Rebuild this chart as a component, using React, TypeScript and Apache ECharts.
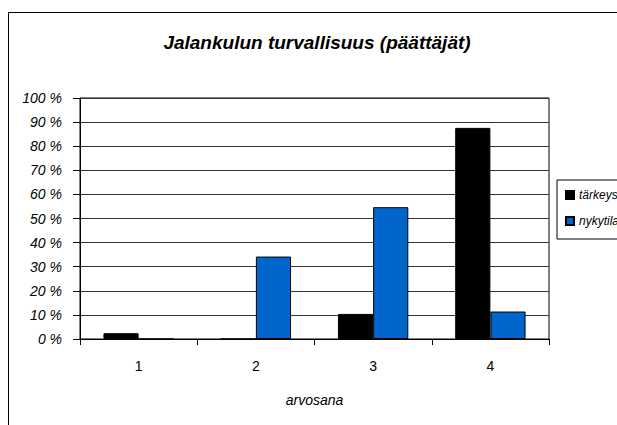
import React, { useEffect, useRef } from "react";
import * as echarts from "echarts";

const categories = ["1", "2", "3", "4"];
const tarkeys = [2.4, 0, 10.4, 87.6];
const nykytila = [0, 34.2, 54.7, 11.4];
const seriesNames = ["tärkeys", "nykytila"];
const titleText = "Jalankulun turvallisuus (päättäjät)";
const xAxisName = "arvosana";

const FONT = "'Liberation Sans', Arial, sans-serif";

export default function App() {
  const ref = useRef<HTMLDivElement>(null);
  useEffect(() => {
    if (!ref.current) return;
    const chart = echarts.init(ref.current, undefined, { renderer: "svg" });
    chart.setOption({
      animation: false,
      backgroundColor: "#fff",
      textStyle: { fontFamily: FONT, color: "#000" },
      graphic: [
        {
          type: "rect",
          shape: { x: 8.5, y: 12.5, width: 700, height: 500 },
          style: { fill: "none", stroke: "#000", lineWidth: 1 },
          silent: true,
        },
        {
          type: "text",
          x: 317,
          y: 42,
          style: {
            text: titleText,
            fontFamily: FONT,
            fontSize: 19,
            fontWeight: "bold",
            fontStyle: "italic",
            fill: "#000",
            textAlign: "center",
            textVerticalAlign: "middle",
          },
        },
      ],
      grid: {
        left: 80,
        top: 98,
        width: 469,
        height: 241,
        show: true,
        borderColor: "#000",
        borderWidth: 1,
        backgroundColor: "transparent",
      },
      legend: {
        orient: "vertical",
        left: 557,
        top: 180,
        data: seriesNames,
        itemWidth: 8,
        itemHeight: 8,
        itemGap: 14,
        icon: "rect",
        padding: [9, 10, 12, 8],
        borderColor: "#000",
        borderWidth: 1,
        textStyle: { fontFamily: FONT, fontSize: 12, fontStyle: "italic", color: "#000" },
      },
      xAxis: {
        type: "category",
        data: categories,
        name: xAxisName,
        nameLocation: "middle",
        nameGap: 54,
        nameTextStyle: { fontFamily: FONT, fontSize: 14, fontStyle: "italic", color: "#000" },
        axisLine: { lineStyle: { color: "#000", width: 1 } },
        axisTick: { show: true, length: 6, alignWithLabel: false, lineStyle: { color: "#000" } },
        axisLabel: { fontFamily: FONT, fontSize: 14, color: "#000", margin: 20 },
      },
      yAxis: {
        type: "value",
        min: 0,
        max: 100,
        interval: 10,
        axisLine: { show: true, lineStyle: { color: "#000", width: 1 } },
        axisTick: { show: true, length: 7, lineStyle: { color: "#000" } },
        axisLabel: {
          formatter: "{value} %",
          fontFamily: FONT,
          fontSize: 14,
          fontStyle: "italic",
          color: "#000",
          margin: 18,
        },
        splitLine: { show: true, lineStyle: { color: "#333", width: 1 } },
      },
      series: [
        {
          name: seriesNames[0],
          type: "bar",
          data: tarkeys,
          barGap: "0%",
          barCategoryGap: "40%",
          itemStyle: { color: "#000000", borderColor: "#000", borderWidth: 1 },
        },
        {
          name: seriesNames[1],
          type: "bar",
          data: nykytila,
          barGap: "0%",
          barCategoryGap: "40%",
          itemStyle: { color: "#0066CC", borderColor: "#000", borderWidth: 1 },
        },
      ],
    });
    return () => chart.dispose();
  }, []);
  return (
    <div
      ref={ref}
      style={{ position: "fixed", left: 0, top: 0, width: 617, height: 425 }}
    />
  );
}
